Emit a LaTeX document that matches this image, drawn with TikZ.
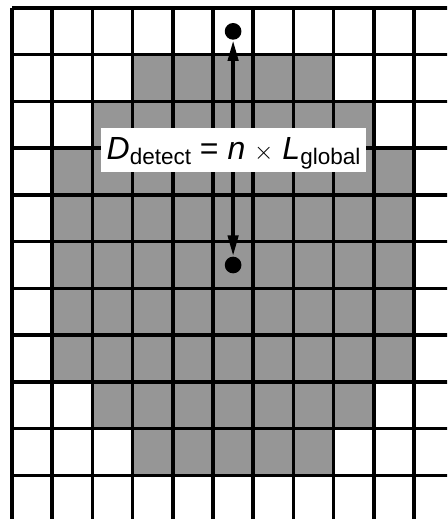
\documentclass[tikz,border=0pt]{standalone}
\usepackage{fontspec}
\setmainfont{Liberation Sans}
\usepackage{tikz}
\usetikzlibrary{arrows.meta}
\definecolor{cellgray}{RGB}{150,150,150}
\newcommand\lowsub[1]{\raisebox{-5pt}{\fontsize{22.5}{22.5}\selectfont #1}}

\begin{document}
\begin{tikzpicture}[x=40.2pt,y=-46.73pt,
    gridline/.style={line width=3.5pt},
    dot/.style={circle,fill=black,inner sep=0pt,minimum size=16.7pt},
    measure/.style={line width=4pt,{Triangle[length=21pt,width=10pt]}-{Triangle[length=21pt,width=10pt]}}]
    \clip (-0.2985,-0.1712) rectangle (10.8209,10.9350);
    \fill[white] (-0.2985,-0.1712) rectangle (10.8209,10.9350);
    % detection region
    \foreach \r/\a/\b in {1/3/7,2/2/8,3/1/9,4/1/9,5/1/9,6/1/9,7/1/9,8/2/8,9/3/7}
       \fill[cellgray] (\a,\r) rectangle (\b+1,\r+1);
    % grid
    \foreach \i in {0,...,11}{
       \draw[gridline] (\i,0)--(\i,11);
       \draw[gridline] (0,\i)--(11,\i);
    }
    \node[dot] (top) at (5.5,0.5) {};
    \node[dot] (bot) at (5.5,5.5) {};
    \draw[measure] (top)--(bot);
    \node[fill=white,inner sep=0pt,text height=31pt,text depth=13pt,minimum width=265pt,anchor=base] (lbl) at (5.51,3.238)
       {\fontsize{32}{38}\selectfont\textit{D}\lowsub{detect} = \textit{n} $\times$ \textit{L}\lowsub{global}};
\end{tikzpicture}
\end{document}
